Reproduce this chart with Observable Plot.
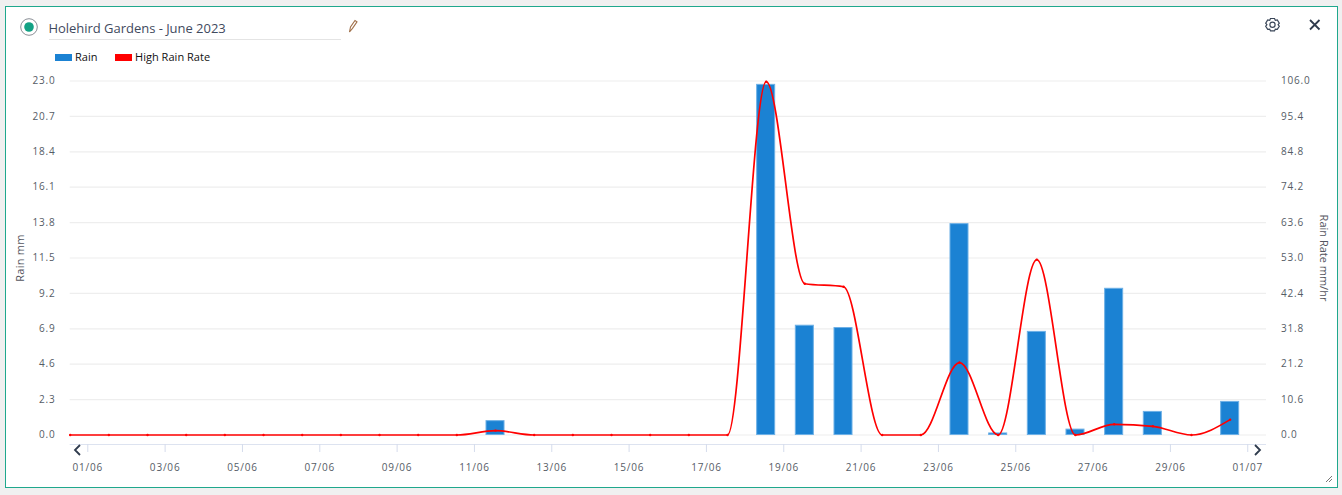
<!DOCTYPE html>
<html><head><meta charset="utf-8">
<script src="https://cdn.jsdelivr.net/npm/d3@7"></script>
<script src="https://cdn.jsdelivr.net/npm/@observablehq/plot@0.6"></script>
<style>
html,body{margin:0;padding:0;background:#f0f0f0;width:1342px;height:495px;overflow:hidden;font-family:"Open Sans",sans-serif}
#card{position:absolute;left:5px;top:6px;width:1331px;height:480px;background:#fff;border:1px solid #1fa88d}
#chart{position:absolute;left:0;top:0}
#title{position:absolute;left:48.5px;top:19px;width:292px;height:20px;line-height:18px;font-size:13px;color:#3f4a5e;border-bottom:1px solid #e4e4e4;letter-spacing:-.03px}
.leg{position:absolute;top:49px;font-size:11px;line-height:16px;color:#111}
.sw{position:absolute;top:53.5px;width:17px;height:7.5px}
.ylab{position:absolute;font-size:11px;color:#555560;white-space:nowrap}
svg.ic{position:absolute;left:0;top:0;pointer-events:none}
svg.main text{letter-spacing:.8px}
</style></head><body>
<div id="card"></div>
<div id="chart"></div>
<div id="title">Holehird Gardens - June 2023</div>
<div class="sw" style="left:55px;background:#1b82d3"></div><div class="leg" style="left:75px">Rain</div>
<div class="sw" style="left:115px;background:#ff0000"></div><div class="leg" style="left:135px;letter-spacing:.03px">High Rain Rate</div>
<div class="ylab" style="left:18.5px;top:257.5px;letter-spacing:.25px;transform:translate(-50%,-50%) rotate(-90deg)">Rain mm</div>
<div class="ylab" style="left:1323.5px;top:257.5px;transform:translate(-50%,-50%) rotate(90deg)">Rain Rate mm/hr</div>
<svg class="ic" width="1342" height="495" fill="none">
<circle cx="29" cy="27" r="8.3" stroke="#8a8f96" stroke-width="1"/><circle cx="29" cy="27" r="4.8" fill="#12a184"/>
<path d="M349.5 32l1-5 4.5-6.5 2 1.4-4.5 6.5z" stroke="#a0704a" stroke-width="1.1"/>
<g stroke="#3a4658" stroke-width="1.2"><circle cx="1272.5" cy="24.7" r="2.6"/><path d="M1270.5 18.5h4l.8 1.8 2 -.3 2 3.2-1.2 1.5 1.2 1.5-2 3.2-2-.3-.8 1.8h-4l-.8-1.8-2 .3-2-3.2 1.2-1.5-1.2-1.5 2-3.2 2 .3z"/></g>
<path d="M1310 20l9.5 9.5M1319.5 20l-9.5 9.5" stroke="#2f3b4d" stroke-width="1.8"/>
<path d="M80 445l-5 5 5 5" stroke="#2f3b4d" stroke-width="1.8"/>
<path d="M1255 445l5 5-5 5" stroke="#2f3b4d" stroke-width="1.8"/>
<path d="M1326 482l6-6M1329 482l3-3" stroke="#777" stroke-width="1"/>
</svg>
<script>
const dayIndex = d3.range(31);
const rain = [0,0,0,0,0,0,0,0,0,0,0,0.9,0,0,0,0,0,0,22.75,7.1,6.95,0,0,13.7,0.1,6.7,0.35,9.5,1.5,0,2.15];
const rainRate = [0,0,0,0,0,0,0,0,0,0,0,1.3,0,0,0,0,0,0,105.8,45.3,44.4,0,0,21.7,0,52.5,0,3.2,2.6,0,4.6];
const leftTicks = [0,2.3,4.6,6.9,9.2,11.5,13.8,16.1,18.4,20.7,23];
const rightTicks = [0,10.6,21.2,31.8,42.4,53,63.6,74.2,84.8,95.4,106];
const xLabels = ["01/06","03/06","05/06","07/06","09/06","11/06","13/06","15/06","17/06","19/06","21/06","23/06","25/06","27/06","29/06","01/07"];
const tickOffset = 0.455, barHalf = 0.233, xEnd = 30.94;
const xTicks = xLabels.map((_, i) => tickOffset + 2 * i);
const bars = dayIndex.map(i => ({i, v: rain[i]})).filter(d => d.v > 0);
const line = dayIndex.map(i => ({i, v: rainRate[i] * 23 / 106}));
const plot = Plot.plot({
  width: 1342, height: 495,
  marginLeft: 69.7, marginRight: 76, marginTop: 80.5, marginBottom: 51,
  style: {background: "transparent", fontFamily: "'Open Sans',sans-serif", fontSize: "10px", color: "#555c66", overflow: "visible"},
  className: "main",
  x: {type: "linear", domain: [0, xEnd], range: [69.7, 1266]},
  y: {domain: [0, 23], range: [434.5, 80.5]},
  marks: [
    Plot.ruleY(leftTicks, {stroke: "#eeeeee", strokeWidth: 1.2}),
    Plot.ruleY([0], {y: () => 0, dy: 9.5, stroke: "#dde3f0", strokeWidth: 1.2}),
    Plot.rectY(bars, {x1: d => d.i - barHalf, x2: d => d.i + barHalf, y1: 0, y2: "v", fill: "#1b82d3", stroke: "#6db0e6", strokeWidth: 1}),
    Plot.line(line, {x: "i", y: "v", stroke: "#ff0000", strokeWidth: 1.7, curve: "monotone-x"}),
    Plot.dot(line, {x: "i", y: "v", r: 1.2, fill: "#ff0000"}),
    Plot.axisY({anchor: "left", ticks: leftTicks, tickSize: 0, tickPadding: 14.7, label: null, tickFormat: d => d.toFixed(1)}),
    Plot.axisY({anchor: "right", ticks: leftTicks, tickSize: 0, tickPadding: 14.5, label: null, tickFormat: (d, i) => rightTicks[i].toFixed(1)}),
    Plot.axisX({anchor: "bottom", ticks: xTicks, tickSize: 8, tickPadding: 11, label: null, stroke: "#d5dcec", tickFormat: (d, i) => xLabels[i]})
  ]
});
document.getElementById("chart").appendChild(plot);
</script>
</body></html>
